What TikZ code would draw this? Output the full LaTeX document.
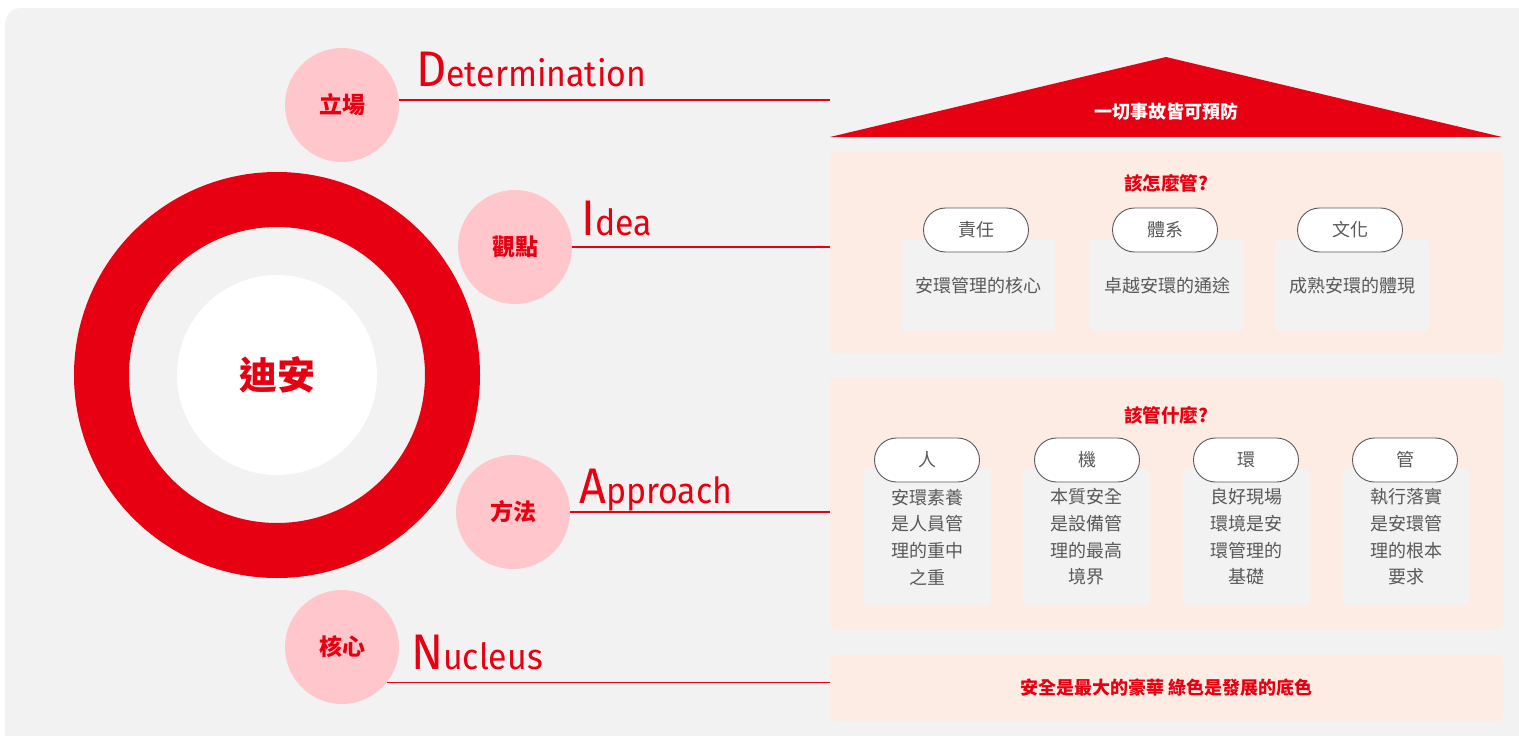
\documentclass[tikz,border=0pt]{standalone}
\usepackage{fontspec}
\setmainfont{Fira Sans}
\newfontfamily\cjk{Noto Sans CJK TC}
\usetikzlibrary{positioning}

\definecolor{brandred}{HTML}{E60012}
\definecolor{softpink}{HTML}{FFC7CB}
\definecolor{panelgray}{HTML}{F2F2F2}
\definecolor{peach}{HTML}{FDECE3}
\definecolor{inkgray}{HTML}{595959}

% big initial letter followed by the rest of the word
\newcommand{\initword}[2]{\scalebox{0.94}[1]{\fontsize{50}{50}\selectfont #1\fontsize{36}{36}\selectfont #2}}

\begin{document}
\begin{tikzpicture}[x=1pt, y=-1pt]

	% Define custom styles
	\tikzstyle{badge} = [circle, fill=softpink, minimum size=114pt, inner sep=0pt, text=brandred,
	font=\cjk\bfseries\fontsize{23}{23}\selectfont]
	\tikzstyle{rule} = [draw=brandred, line width=1.4pt]
	\tikzstyle{initial} = [anchor=base west, inner sep=0pt, text=brandred]
	\tikzstyle{panel} = [rectangle, fill=peach, rounded corners=6pt, inner sep=0pt, minimum width=673pt]
	\tikzstyle{heading} = [text=brandred, font=\cjk\bfseries\fontsize{18.5}{18.5}\selectfont]
	\tikzstyle{pill} = [rectangle, rounded corners=22pt, draw=inkgray, line width=0.9pt, fill=white,
	minimum width=105pt, minimum height=44pt, inner sep=0pt, text=inkgray, font=\cjk\fontsize{18}{18}\selectfont]
	\tikzstyle{card} = [rectangle, fill=panelgray, rounded corners=3pt, inner sep=0pt, align=center,
	text=inkgray, font=\cjk\fontsize{18}{26.7}\selectfont]

	% Page and background panel
	\useasboundingbox (0,0) rectangle (1519,736);
	\fill[white] (0,0) rectangle (1519,736);
	\clip (0,0) rectangle (1519,736);
	\fill[panelgray, rounded corners=16pt] (5,8) rectangle (1560,760);

	% Ring with the core
	\draw[brandred, line width=55pt] (277,375) circle[radius=175.5pt];
	\node[circle, fill=white, minimum size=200pt, inner sep=0pt, text=brandred,
	font=\cjk\bfseries\fontsize{38}{38}\selectfont] (core) at (277,375) {迪安};

	% Four badges
	\node[badge] (stance) at (342,105) {立場};
	\node[badge] (view) at (515,247) {觀點};
	\node[badge] (method) at (513,512) {方法};
	\node[badge] (nucleus) at (342,647) {核心};

	% Words
	\node[initial] (stanceword) at (416,86) {\initword{D}{etermination}};
	\node[initial] (viewword) at (581,235) {\initword{I}{dea}};
	\node[initial] (methodword) at (579,503) {\initword{A}{pproach}};
	\node[initial] (nucleusword) at (411,669) {\initword{N}{ucleus}};

	% Roof
	\coordinate (roofL) at (830,137);
	\coordinate (roofR) at (1502,137);
	\coordinate (roofT) at (1166,57);
	\fill[brandred] (roofL) -- (roofT) -- (roofR) -- cycle;
	\node[text=white, font=\cjk\bfseries\fontsize{18}{18}\selectfont] (motto) at (1166,112) {一切事故皆可預防};

	% Panel: how to manage
	\node[panel, minimum height=201pt] (how) at (1166.5,252.5) {};
	\node[heading] (howtitle) at (1166,183) {該怎麼管?};
	\node[card, minimum width=154pt, minimum height=91pt] (duty) at (978,285.5) {安環管理的核心};
	\node[card, minimum width=154pt, minimum height=91pt] (system) at (1167,285.5) {卓越安環的通途};
	\node[card, minimum width=154pt, minimum height=91pt] (culture) at (1352,285.5) {成熟安環的體現};
	\node[pill] (dutytag) at (976,230) {責任};
	\node[pill] (systemtag) at (1165,230) {體系};
	\node[pill] (culturetag) at (1350,230) {文化};

	% Panel: what to manage
	\node[panel, minimum height=251pt] (what) at (1166.5,503.5) {};
	\node[heading] (whattitle) at (1166,415) {該管什麼?};
	\node[card, minimum width=127pt, minimum height=136pt] (people) at (927.5,537) {安環素養\\是人員管\\理的重中\\之重};
	\node[card, minimum width=127pt, minimum height=136pt] (machine) at (1086.5,537) {本質安全\\是設備管\\理的最高\\境界};
	\node[card, minimum width=127pt, minimum height=136pt] (site) at (1246.5,537) {良好現場\\環境是安\\環管理的\\基礎};
	\node[card, minimum width=127pt, minimum height=136pt] (control) at (1406,537) {執行落實\\是安環管\\理的根本\\要求};
	\node[pill] (peopletag) at (927,460) {人};
	\node[pill] (machinetag) at (1087,460) {機};
	\node[pill] (sitetag) at (1246,460) {環};
	\node[pill] (controltag) at (1405,460) {管};

	% Panel: core slogan
	\node[panel, minimum height=66pt, text=brandred, font=\cjk\bfseries\fontsize{18}{18}\selectfont]
	(slogan) at (1166.5,688) {安全是最大的豪華 綠色是發展的底色};

	% Lines from badges to the right side
	\draw[rule] (stance.5) -- (stance.5 -| roofL);
	\draw[rule] (view.east) -- (view.east -| how.west);
	\draw[rule] (method.east) -- (method.east -| what.west);
	\draw[rule] (nucleus.-38) -- (nucleus.-38 -| slogan.west);

\end{tikzpicture}
\end{document}
